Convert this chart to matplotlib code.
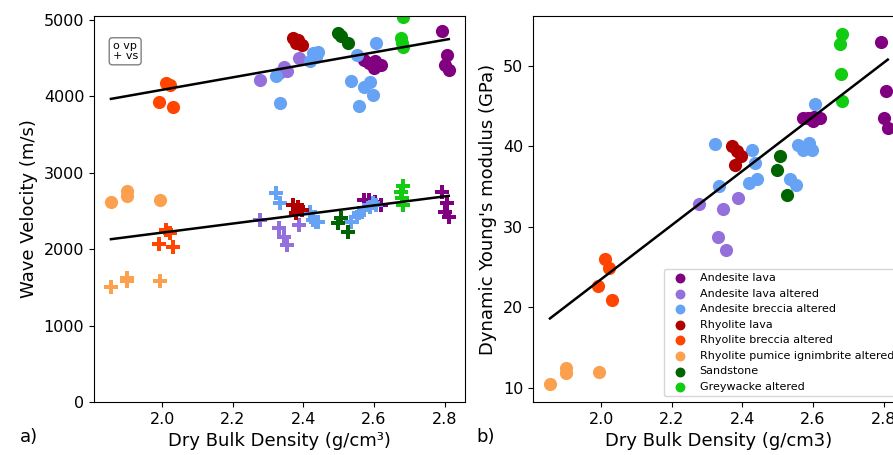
import numpy as np
import matplotlib
matplotlib.use("Agg")
import matplotlib.pyplot as plt

# ---- data ----
groups = ["Andesite lava", "Andesite lava altered", "Andesite breccia altered",
          "Rhyolite lava", "Rhyolite breccia altered",
          "Rhyolite pumice ignimbrite altered", "Sandstone", "Greywacke altered"]
colors = ["#800080", "#9370DB", "#66A3F5", "#B00000", "#FF4500",
          "#FBA04E", "#006400", "#11CC11"]

density = {
    "Andesite lava": [2.571, 2.585, 2.604, 2.620, 2.600, 2.793, 2.807, 2.802, 2.812],
    "Andesite lava altered": [2.278, 2.331, 2.345, 2.355, 2.389],
    "Andesite breccia altered": [2.323, 2.334, 2.420, 2.428, 2.436, 2.442, 2.535,
                                 2.553, 2.558, 2.571, 2.590, 2.597, 2.606],
    "Rhyolite lava": [2.372, 2.386, 2.395, 2.378],
    "Rhyolite breccia altered": [2.011, 2.021, 1.990, 2.032],
    "Rhyolite pumice ignimbrite altered": [1.855, 1.900, 1.900, 1.995],
    "Sandstone": [2.508, 2.497, 2.527],
    "Greywacke altered": [2.681, 2.678, 2.679, 2.683],
}
vp = {
    "Andesite lava": [4477, 4433, 4455, 4411, 4368, 4860, 4542, 4411, 4346],
    "Andesite lava altered": [4215, 4303, 4389, 4324, 4499],
    "Andesite breccia altered": [4268, 3910, 4455, 4565, 4520, 4573, 4202,
                                 4542, 3879, 4119, 4193, 4010, 4695],
    "Rhyolite lava": [4761, 4739, 4673, 4695],
    "Rhyolite breccia altered": [4170, 4150, 3920, 3860],
    "Rhyolite pumice ignimbrite altered": [2620, 2755, 2695, 2640],
    "Sandstone": [4790, 4826, 4695],
    "Greywacke altered": [5040, 4760, 4700, 4650],
}
vs = {
    "Andesite lava": [2644, 2644, 2622, 2579, 2600, 2753, 2601, 2491, 2426],
    "Andesite lava altered": [2382, 2273, 2164, 2055, 2317],
    "Andesite breccia altered": [2732, 2601, 2491, 2382, 2360, 2360, 2360,
                                 2426, 2470, 2513, 2557, 2601, 2580],
    "Rhyolite lava": [2579, 2557, 2513, 2470],
    "Rhyolite breccia altered": [2250, 2210, 2070, 2025],
    "Rhyolite pumice ignimbrite altered": [1500, 1625, 1585, 1578],
    "Sandstone": [2404, 2339, 2229],
    "Greywacke altered": [2820, 2750, 2670, 2580],
}
young = {
    "Andesite lava": [43.5, 43.5, 43.7, 43.5, 43.1, 53.0, 46.9, 43.5, 42.3],
    "Andesite lava altered": [32.8, 28.7, 32.2, 27.1, 33.6],
    "Andesite breccia altered": [40.3, 35.1, 35.5, 39.5, 38.0, 35.9, 35.9,
                                 35.2, 40.2, 39.6, 40.4, 39.5, 45.3],
    "Rhyolite lava": [40.0, 39.4, 38.8, 37.7],
    "Rhyolite breccia altered": [26.0, 24.9, 22.6, 20.9],
    "Rhyolite pumice ignimbrite altered": [10.5, 12.5, 11.8, 12.0],
    "Sandstone": [38.8, 37.1, 34.0],
    "Greywacke altered": [54.0, 52.7, 49.0, 45.6],
}

# trend lines as shown in the reference (slope, intercept)
vp_trend = [817.0, 2450.0]
vs_trend = [592.5, 1031.0]
e_trend = [33.6, -43.7]

x_ticks = [2.0, 2.2, 2.4, 2.6, 2.8]
vel_ticks = [0, 1000, 2000, 3000, 4000, 5000]
e_ticks = [10, 20, 30, 40, 50]

# ---- figure ----
W, H = 893, 455
fig = plt.figure(figsize=(W / 100, H / 100), dpi=100)
ax1 = fig.add_axes([94 / W, 53 / H, (465 - 94) / W, 386 / H])
ax2 = fig.add_axes([533 / W, 53 / H, (904 - 533) / W, 386 / H])

S = 90
all_x = np.concatenate([density[g] for g in groups])

for g, c in zip(groups, colors):
    ax1.scatter(density[g], vp[g], s=S, color=c, marker="o", linewidths=0)
    ax1.scatter(density[g], vs[g], s=S, color=c, marker="P", linewidths=0)
    ax2.scatter(density[g], young[g], s=S, color=c, marker="o", linewidths=0, label=g)

xl = np.array([all_x.min(), all_x.max()])
for k, b in (vp_trend, vs_trend):
    ax1.plot(xl, k * xl + b, color="black", lw=1.8)
ax2.plot(xl, e_trend[0] * xl + e_trend[1], color="black", lw=1.8)

xlim = (1.807, 2.858)
ax1.set_xlim(*xlim)
ax2.set_xlim(*xlim)
ax1.set_ylim(0, 5050)
ax2.set_ylim(8.25, 56.2)
ax1.set_xticks(x_ticks)
ax2.set_xticks(x_ticks)
ax1.set_yticks(vel_ticks)
ax2.set_yticks(e_ticks)
for ax in (ax1, ax2):
    ax.tick_params(labelsize=11.5)

ax1.set_xlabel("Dry Bulk Density (g/cm³)", fontsize=13)
ax1.set_ylabel("Wave Velocity (m/s)", fontsize=13)
ax2.set_xlabel("Dry Bulk Density (g/cm3)", fontsize=13)
ax2.set_ylabel("Dynamic Young's modulus (GPa)", fontsize=13)

ax1.text(0.05, 0.935, "o vp\n+ vs", transform=ax1.transAxes, fontsize=8,
         va="top", ha="left", linespacing=1.05,
         bbox=dict(boxstyle="round,pad=0.3", fc="white", ec="gray", lw=1))

ax2.legend(loc="lower right", fontsize=8, markerscale=0.75)

fig.text(20 / W, 1 - 437 / H, "a)", fontsize=13, ha="left", va="center")
fig.text(476 / W, 1 - 437 / H, "b)", fontsize=13, ha="left", va="center")

fig.savefig("out.png", dpi=100)
